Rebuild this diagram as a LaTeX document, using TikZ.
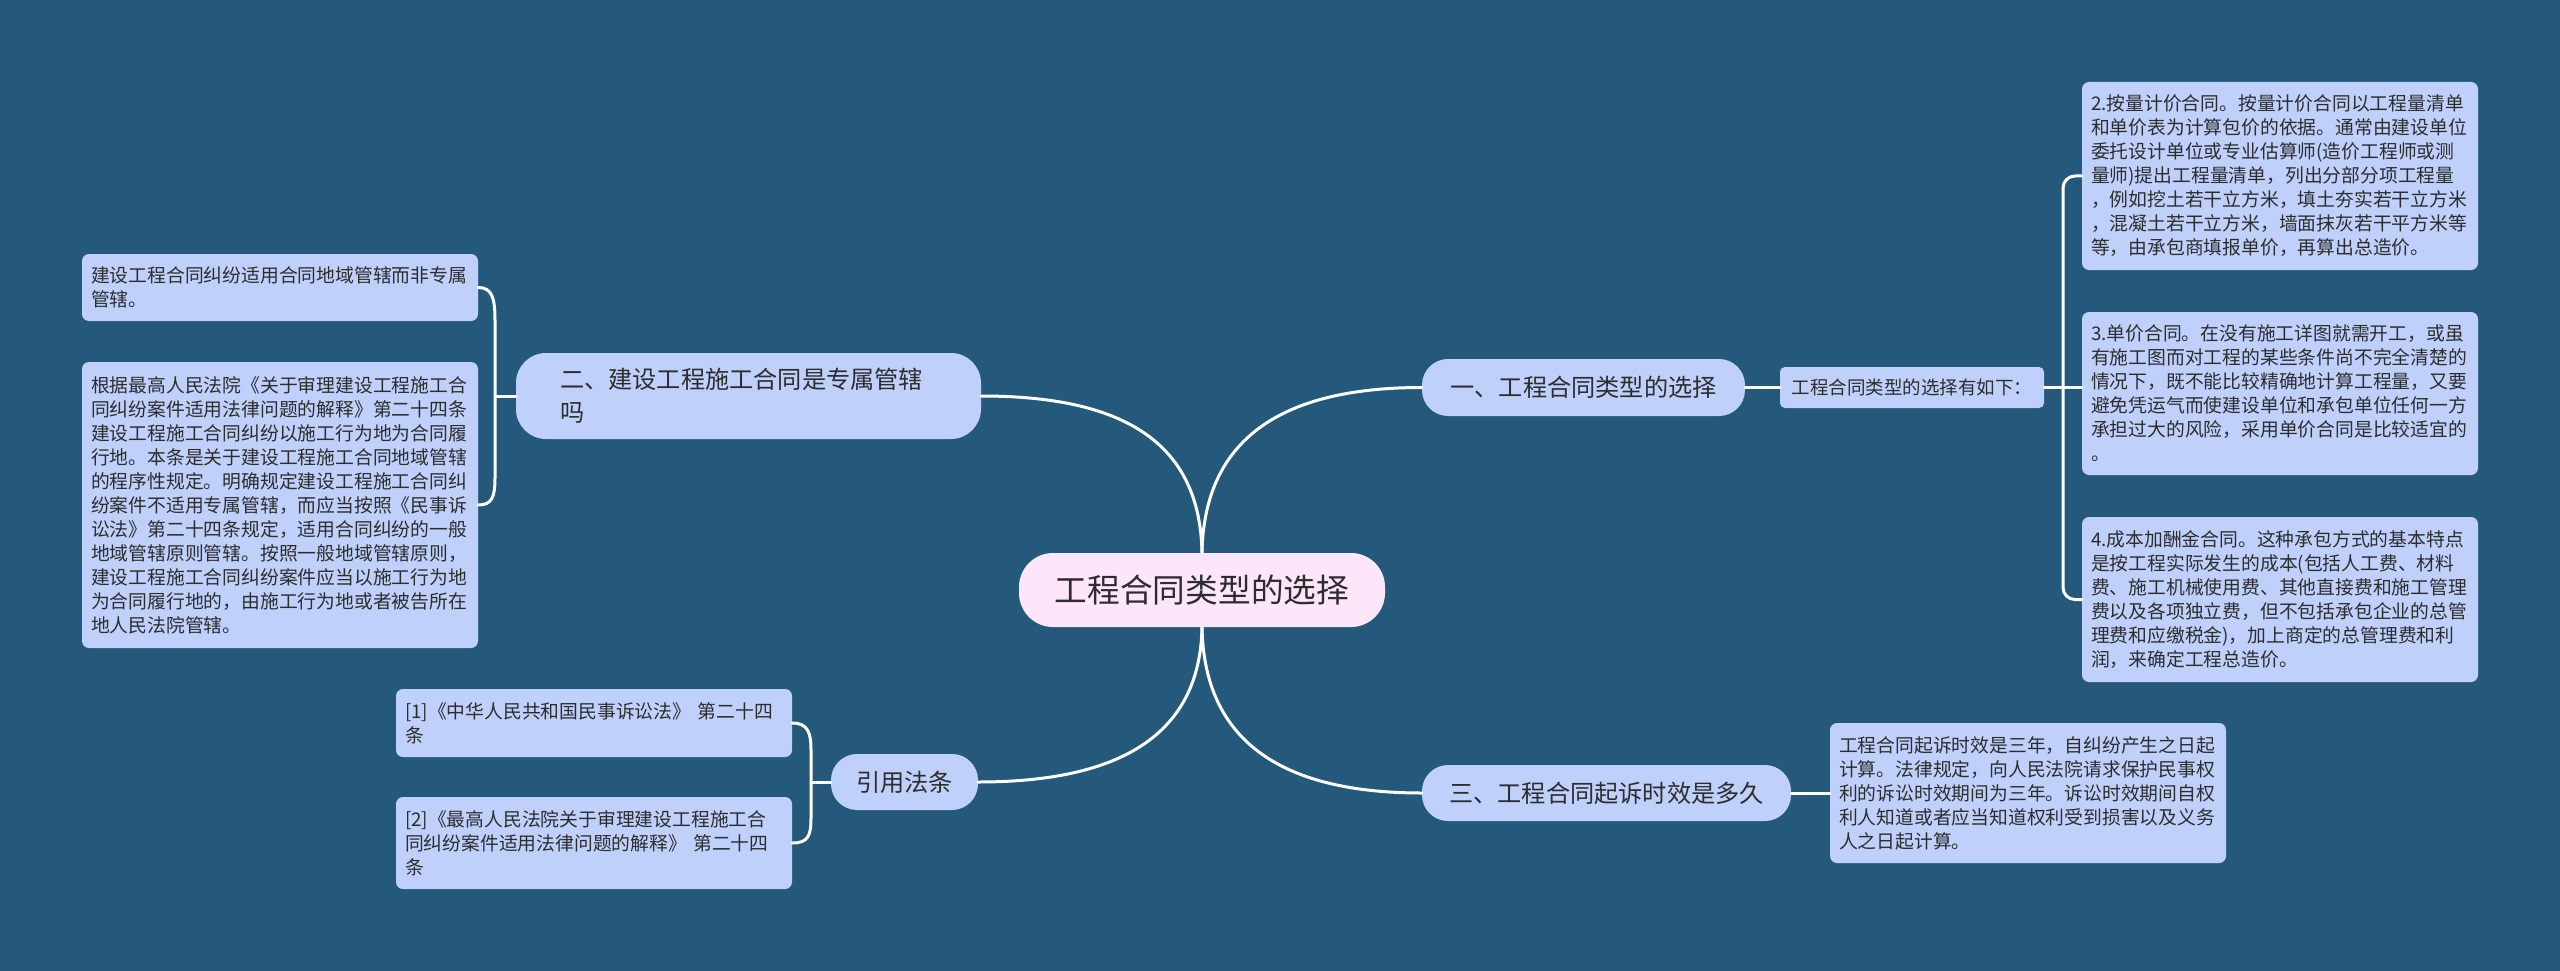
\documentclass[tikz,border=0pt]{standalone}
\usepackage{fontspec}
\newfontfamily\cjk{Noto Sans CJK SC}
\definecolor{bg}{RGB}{36,89,123}
\definecolor{nodeblue}{RGB}{191,208,250}
\definecolor{nodepink}{RGB}{253,230,250}
\definecolor{txt}{RGB}{45,45,45}
\begin{document}
\begin{tikzpicture}[x=1pt,y=-1pt,
  box/.style={fill=nodeblue, rounded corners=7, text=txt, font=\cjk\fontsize{18.8}{24}\selectfont, align=left, text width=378, inner xsep=9, inner ysep=0},
  branch/.style={fill=nodeblue, rounded corners=26, text=txt, font=\cjk\fontsize{24.2}{33}\selectfont, inner sep=0, align=center},
  subbox/.style={fill=nodeblue, rounded corners=5, text=txt, font=\cjk\fontsize{18.5}{24}\selectfont, inner sep=0, minimum width=264, minimum height=41},
  rootbox/.style={fill=nodepink, rounded corners=34, text=txt, font=\cjk\fontsize{32.7}{40}\selectfont, inner sep=0, minimum width=366, minimum height=74},
  link/.style={draw=white, line width=3, line cap=round}]
\fill[bg] (0,0) rectangle (2560,971);
\useasboundingbox (0,0) rectangle (2560,971);

% root
\node[rootbox] (C) at (1202,590) {工程合同类型的选择};

% branch 1
\node[branch, minimum width=323, minimum height=57] (b1) at (1583.5,387.5) {一、工程合同类型的选择};
\node[subbox] (s1) at (1912,387.5) {工程合同类型的选择有如下：};
\node[box, minimum height=188] (r2) at (2280,176) {2.按量计价合同。按量计价合同以工程量清单\\和单价表为计算包价的依据。通常由建设单位\\委托设计单位或专业估算师(造价工程师或测\\量师)提出工程量清单，列出分部分项工程量\\，例如挖土若干立方米，填土夯实若干立方米\\，混凝土若干立方米，墙面抹灰若干平方米等\\等，由承包商填报单价，再算出总造价。};
\node[box, minimum height=163] (r3) at (2280,393.5) {3.单价合同。在没有施工详图就需开工，或虽\\有施工图而对工程的某些条件尚不完全清楚的\\情况下，既不能比较精确地计算工程量，又要\\避免凭运气而使建设单位和承包单位任何一方\\承担过大的风险，采用单价合同是比较适宜的\\。};
\node[box, minimum height=165] (r4) at (2280,599.5) {4.成本加酬金合同。这种承包方式的基本特点\\是按工程实际发生的成本(包括人工费、材料\\费、施工机械使用费、其他直接费和施工管理\\费以及各项独立费，但不包括承包企业的总管\\理费和应缴税金)，加上商定的总管理费和利\\润，来确定工程总造价。};

% branch 3
\node[branch, minimum width=369, minimum height=56] (b3) at (1606.5,793) {三、工程合同起诉时效是多久};
\node[box, minimum height=140] (r5) at (2028,793) {工程合同起诉时效是三年，自纠纷产生之日起\\计算。法律规定，向人民法院请求保护民事权\\利的诉讼时效期间为三年。诉讼时效期间自权\\利人知道或者应当知道权利受到损害以及义务\\人之日起计算。};

% branch 2
\node[branch, rounded corners=30, minimum height=86, text width=377, inner xsep=44, align=left] (b2) at (748.5,396) {二、建设工程施工合同是专属管辖\\吗};
\node[box, minimum height=67] (l1) at (280,287.5) {建设工程合同纠纷适用合同地域管辖而非专属\\管辖。};
\node[box, minimum height=286] (l2) at (280,505) {根据最高人民法院《关于审理建设工程施工合\\同纠纷案件适用法律问题的解释》第二十四条\\建设工程施工合同纠纷以施工行为地为合同履\\行地。本条是关于建设工程施工合同地域管辖\\的程序性规定。明确规定建设工程施工合同纠\\纷案件不适用专属管辖，而应当按照《民事诉\\讼法》第二十四条规定，适用合同纠纷的一般\\地域管辖原则管辖。按照一般地域管辖原则，\\建设工程施工合同纠纷案件应当以施工行为地\\为合同履行地的，由施工行为地或者被告所在\\地人民法院管辖。};

% branch 4
\node[branch, minimum width=147, minimum height=56] (b4) at (904.5,782) {引用法条};
\node[box, minimum height=68] (f1) at (594,723) {[1]《中华人民共和国民事诉讼法》 第二十四\\条};
\node[box, minimum height=92] (f2) at (594,843) {[2]《最高人民法院关于审理建设工程施工合\\同纠纷案件适用法律问题的解释》 第二十四\\条};

% main connectors
\draw[link] (C.north) .. controls (1204,440) and (1280,387.5) .. (b1.west);
\draw[link] (C.north) .. controls (1200,440) and (1120,396) .. (b2.east);
\draw[link] (C.south) .. controls (1204,740) and (1280,793) .. (b3.west);
\draw[link] (C.south) .. controls (1200,735) and (1120,782) .. (b4.east);

% branch 1 children
\coordinate (rj) at (2063,387.5);
\draw[link] (b1.east) -- (s1.west);
\draw[link] (s1.east) -- (s1.east -| r3.west);
\draw[link, rounded corners=12] (r2.west) -- (r2.west -| rj) -- (r4.west -| rj) -- (r4.west);

% branch 3 child
\draw[link] (b3.east) -- (r5.west);

% branch 2 children
\coordinate (lj) at (495,396);
\draw[link] (l1.east) .. controls (492,287.5) and (495,298) .. (495,320) -- (495,478) .. controls (495,497) and (492,505) .. (l2.east);
\draw[link] (lj) -- (b2.west);

% branch 4 children
\coordinate (fj) at (811,782);
\draw[link] (f1.east) .. controls (808,723) and (811,733) .. (811,750) -- (811,818) .. controls (811,836) and (808,843) .. (f2.east);
\draw[link] (fj) -- (b4.west);
\end{tikzpicture}
\end{document}
